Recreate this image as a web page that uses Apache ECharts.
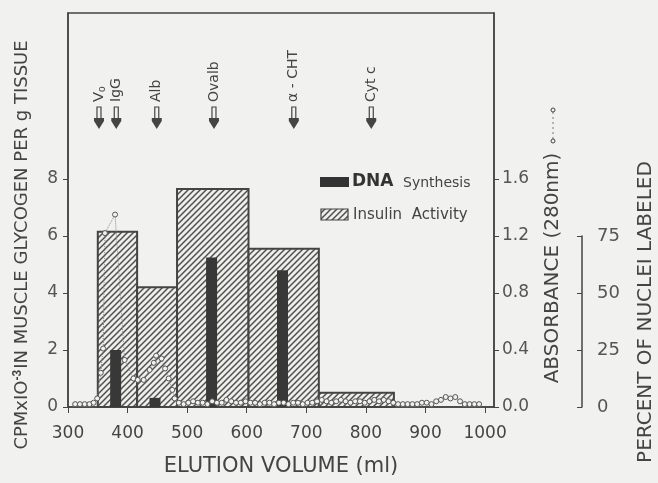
<!DOCTYPE html>
<html>
<head>
<meta charset="utf-8">
<script src="https://cdn.jsdelivr.net/npm/echarts@6.0.0/dist/echarts.min.js"></script>
<style>
  html, body { margin: 0; padding: 0; background: #f1f1ef; }
  #chart { width: 658px; height: 483px; }
</style>
</head>
<body>
<div id="chart"></div>
<script>
// insulin activity pools (elution volume range, activity)
var insStart = [350, 416, 483, 603, 721];
var insEnd = [416, 483, 603, 721, 847];
var insVal = [6.15, 4.2, 7.65, 5.55, 0.5];

// DNA synthesis, percent of nuclei labeled
var dnaVol = [380, 446, 541, 660];
var dnaVal = [25, 4, 65.5, 60];

// absorbance at 280 nm
var absVol = [312, 320, 328, 336, 343, 349, 355, 359, 362, 379, 395, 410, 417, 427, 437, 444, 448, 457, 463, 469, 475, 479, 486, 494,
  502, 510, 518, 526, 534, 542, 550, 558, 566, 574, 582, 590, 598, 606, 614, 622, 630, 638, 646, 654, 662, 670, 678, 686, 694,
  702, 710, 718, 726, 734, 742, 750, 758, 766, 774, 782, 790, 798, 806, 814, 822, 830, 838, 846, 854, 862, 870, 878, 886, 894,
  902, 910, 918, 926, 934, 942, 950, 958, 966, 974, 982, 990];
var absVal = [0.02, 0.02, 0.02, 0.02, 0.03, 0.06, 0.24, 0.41, 1.22, 1.35, 0.33, 0.2, 0.19, 0.19, 0.26, 0.31, 0.36, 0.34, 0.27, 0.2, 0.12, 0.06, 0.03, 0.02,
  0.03, 0.04, 0.03, 0.03, 0.02, 0.04, 0.03, 0.03, 0.05, 0.04, 0.03, 0.03, 0.04, 0.03, 0.03, 0.02, 0.03, 0.03, 0.02, 0.03, 0.03, 0.02, 0.03, 0.03, 0.02,
  0.03, 0.03, 0.04, 0.05, 0.04, 0.03, 0.04, 0.05, 0.04, 0.03, 0.04, 0.04, 0.03, 0.04, 0.05, 0.04, 0.05, 0.04, 0.03, 0.02, 0.02, 0.02, 0.02, 0.02, 0.03,
  0.03, 0.02, 0.04, 0.05, 0.07, 0.06, 0.07, 0.04, 0.02, 0.02, 0.02, 0.02];

// marker proteins
var markVol = [352, 381, 449, 545, 679, 809];
var markName = ['{v|V}{o|o}', 'IgG', 'Alb', 'Ovalb', 'α - CHT', 'Cyt c'];

// tick labels
var xTicks = [300, 400, 500, 600, 700, 800, 900, 1000];
var leftTicks = [0, 2, 4, 6, 8];
var absTicks = [0, 0.4, 0.8, 1.2, 1.6];
var pctTicks = [0, 25, 50, 75];

var LEFT_MAX = 13.82;
var FONT = 'DejaVu Sans';
var INK = '#444';

function hatch() {
  var c = document.createElement('canvas');
  c.width = 6; c.height = 6;
  var g = c.getContext('2d');
  g.fillStyle = '#eeeeeb';
  g.fillRect(0, 0, 6, 6);
  g.strokeStyle = '#505050';
  g.lineWidth = 1.5;
  g.beginPath();
  g.moveTo(-1, 7); g.lineTo(7, -1);
  g.moveTo(-4, 4); g.lineTo(4, -4);
  g.moveTo(2, 10); g.lineTo(10, 2);
  g.stroke();
  return c;
}
var hatchFill = { image: hatch(), repeat: 'repeat' };

var insData = insStart.map(function (s, i) { return [s, insEnd[i], insVal[i]]; });
var dnaData = dnaVol.map(function (v, i) { return [v, dnaVal[i]]; });
var absData = absVol.map(function (v, i) { return [v, absVal[i]]; });

var chart = echarts.init(document.getElementById('chart'));
chart.setOption({
  animation: false,
  backgroundColor: '#f1f1ef',
  textStyle: { fontFamily: FONT },
  grid: [
    { left: 68, right: 164, top: 13, bottom: 76, show: true, borderColor: INK, borderWidth: 1.5 },
    { left: 582, width: 1, top: 236, height: 171 }
  ],
  xAxis: [
    {
      type: 'value', min: 300, max: 1015, interval: 100, offset: 8,
      axisLine: { lineStyle: { color: INK, width: 1.5 } },
      axisTick: { length: 6, lineStyle: { color: INK }, customValues: xTicks },
      axisLabel: { color: INK, fontSize: 17, margin: 10, customValues: xTicks,
        formatter: function (v) { return String(v); } },
      splitLine: { show: false },
      name: 'ELUTION VOLUME (ml)', nameLocation: 'middle', nameGap: 41,
      nameTextStyle: { color: INK, fontSize: 21 }
    },
    { gridIndex: 1, type: 'value', show: false }
  ],
  yAxis: [
    {
      type: 'value', min: 0, max: LEFT_MAX,
      axisLine: { show: true, lineStyle: { color: INK, width: 1.5 } },
      axisTick: { show: true, length: 5, lineStyle: { color: INK }, customValues: leftTicks },
      axisLabel: { color: '#555', fontSize: 17, margin: 10, customValues: leftTicks },
      splitLine: { show: false }
    },
    {
      type: 'value', min: 0, max: LEFT_MAX * 0.2, position: 'right',
      axisLine: { show: true, lineStyle: { color: INK, width: 1.5 } },
      axisTick: { show: true, length: 5, lineStyle: { color: INK }, customValues: absTicks },
      axisLabel: { color: '#555', fontSize: 17, margin: 8, customValues: absTicks,
        formatter: function (v) { return v.toFixed(1); } },
      splitLine: { show: false }
    },
    {
      // percent scale used by the DNA bars (75 % = 6 on the left scale)
      type: 'value', min: 0, max: LEFT_MAX * 12.5, show: false
    },
    {
      gridIndex: 1, type: 'value', min: 0, max: 75, position: 'left',
      axisLine: { show: true, lineStyle: { color: INK, width: 1.5 } },
      axisTick: { show: true, length: 5, lineStyle: { color: INK }, customValues: pctTicks },
      axisLabel: { inside: true, color: '#555', fontSize: 18, margin: 15, customValues: pctTicks },
      splitLine: { show: false }
    }
  ],
  series: [
    {
      name: 'Insulin Activity',
      type: 'custom',
      z: 2,
      data: insData,
      encode: { x: [0, 1], y: 2 },
      renderItem: function (params, api) {
        var p0 = api.coord([api.value(0), api.value(2)]);
        var p1 = api.coord([api.value(1), 0]);
        return {
          type: 'rect',
          shape: { x: p0[0], y: p0[1], width: p1[0] - p0[0], height: p1[1] - p0[1] },
          style: { fill: hatchFill, stroke: INK, lineWidth: 2 }
        };
      }
    },
    {
      name: 'DNA Synthesis',
      type: 'bar',
      z: 3,
      yAxisIndex: 2,
      barWidth: 11,
      data: dnaData,
      itemStyle: { color: '#383838' }
    },
    {
      name: 'Absorbance',
      type: 'line',
      z: 4,
      yAxisIndex: 1,
      data: absData,
      symbol: 'circle',
      symbolSize: 5,
      itemStyle: { color: '#f1f1ef', borderColor: '#555', borderWidth: 1 },
      lineStyle: { color: '#888', width: 1, type: 'dotted' }
    },
    {
      name: 'Markers',
      type: 'custom',
      z: 5,
      data: markVol.map(function (v) { return [v, 0]; }),
      encode: { x: 0, y: 1 },
      renderItem: function (params, api) {
        var x = api.coord([api.value(0), 0])[0];
        return {
          type: 'group',
          children: [
            { type: 'rect', shape: { x: x - 2, y: 107, width: 4, height: 12 },
              style: { fill: '#f1f1ef', stroke: INK, lineWidth: 1.2 } },
            { type: 'polygon', shape: { points: [[x - 5, 118], [x + 5, 118], [x + 5, 121], [x, 129], [x - 5, 121]] },
              style: { fill: INK } },
            { type: 'text', x: x, y: 102, rotation: Math.PI / 2,
              style: { text: markName[params.dataIndex], align: 'left', verticalAlign: 'middle',
                fontFamily: FONT, fontSize: 14, fill: INK,
                rich: { v: { fontSize: 15, fill: INK }, o: { fontSize: 10, fill: INK, padding: [6, 0, 0, 0] } } } }
          ]
        };
      }
    }
  ],
  graphic: [
    { type: 'text', x: 22, y: 245, rotation: Math.PI / 2,
      style: { text: 'CPMxIO{s|-3}IN MUSCLE GLYCOGEN PER g TISSUE', align: 'center', verticalAlign: 'middle',
        fontFamily: FONT, fontSize: 18, fill: INK,
        rich: { s: { fontSize: 12, fill: INK, fontWeight: 'bold', padding: [0, 1, 9, 0] } } } },
    { type: 'text', x: 553, y: 268, rotation: Math.PI / 2,
      style: { text: 'ABSORBANCE (280nm)', align: 'center', verticalAlign: 'middle',
        fontFamily: FONT, fontSize: 20, fill: INK } },
    { type: 'line', shape: { x1: 553, y1: 112, x2: 553, y2: 139 },
      style: { stroke: '#777', lineWidth: 1, lineDash: [2, 3] } },
    { type: 'circle', shape: { cx: 553, cy: 110, r: 2 }, style: { fill: '#f1f1ef', stroke: INK, lineWidth: 1 } },
    { type: 'circle', shape: { cx: 553, cy: 141, r: 2 }, style: { fill: '#f1f1ef', stroke: INK, lineWidth: 1 } },
    { type: 'text', x: 646, y: 312, rotation: Math.PI / 2,
      style: { text: 'PERCENT OF NUCLEI LABELED', align: 'center', verticalAlign: 'middle',
        fontFamily: FONT, fontSize: 20, fill: INK } },
    // legend
    { type: 'rect', shape: { x: 320, y: 177, width: 29, height: 10 }, style: { fill: '#333' } },
    { type: 'text', x: 352, y: 182, style: { text: 'DNA', verticalAlign: 'middle', fontFamily: FONT,
        fontSize: 17, fontWeight: 'bold', fill: '#333' } },
    { type: 'text', x: 403, y: 183, style: { text: 'Synthesis', verticalAlign: 'middle', fontFamily: FONT,
        fontSize: 14, fill: INK } },
    { type: 'rect', shape: { x: 321, y: 209, width: 27, height: 11 }, style: { fill: hatchFill, stroke: INK, lineWidth: 1.2 } },
    { type: 'text', x: 353, y: 215, style: { text: 'Insulin  Activity', verticalAlign: 'middle', fontFamily: FONT,
        fontSize: 15, fill: INK } }
  ]
});
</script>
</body>
</html>
